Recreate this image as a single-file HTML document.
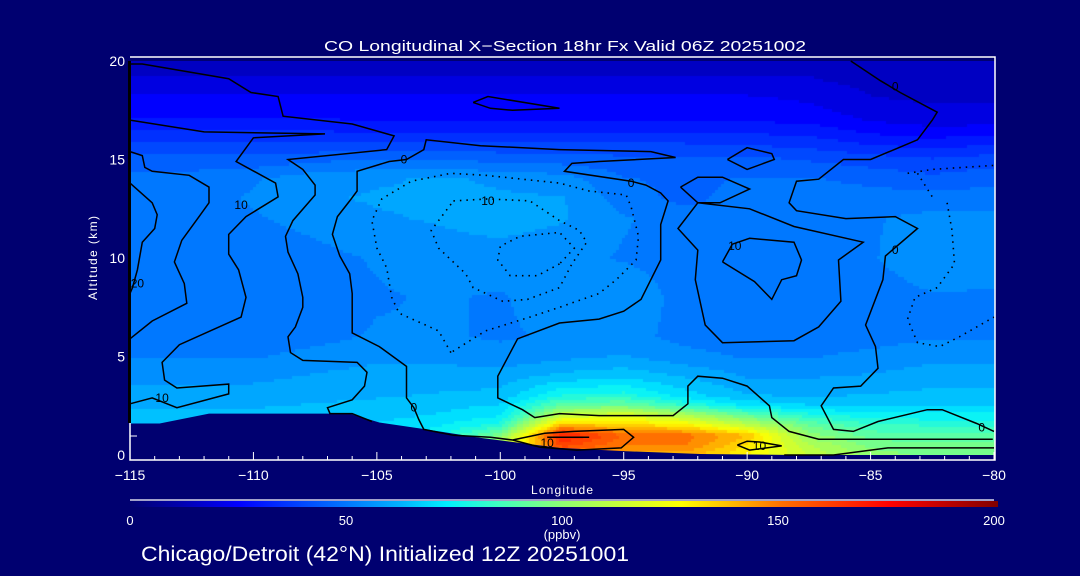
<!DOCTYPE html>
<html><head><meta charset="utf-8">
<style>
html,body{margin:0;padding:0;background:#000070;}
#wrap{position:relative;width:1080px;height:576px;overflow:hidden;background:#000070;}
#heat{position:absolute;left:130px;top:61px;}
svg{position:absolute;left:0;top:0;}
text{font-family:"Liberation Sans",sans-serif;}
</style></head>
<body>
<div id="wrap">
<canvas id="heat" width="865" height="394"></canvas>
<svg id="svg" width="1080" height="576"></svg>
</div>
<script>
// ---- data ----
const lons = [-115,-112.5,-110,-107.5,-105,-102.5,-100,-97.5,-95,-92.5,-90,-87.5,-85,-82.5,-80];
const alts = [0,0.5,1,1.5,2,2.5,3,4,5,6,8,10,12,13,14,15,16,17,18,19,20];
const coRows = [
 [70,70,70,70,72,84,115,150,140,140,128,112,100,96,96],
 [70,70,70,70,72,80,110,160,148,148,132,108,96,94,94],
 [68,68,68,68,70,76,96,170,152,150,138,100,90,88,88],
 [66,66,66,66,68,72,80,140,135,130,112,92,84,82,82],
 [64,64,64,64,66,68,72,112,120,108,92,80,75,74,74],
 [62,62,62,63,64,66,68,92,94,82,72,68,67,67,67],
 [60,60,60,61,62,63,64,78,80,70,63,62,63,64,64],
 [56,56,56,58,60,60,60,64,66,62,57,57,58,60,60],
 [52,52,52,54,56,56,54,56,58,54,52,52,54,56,56],
 [50,50,50,51,53,53,52,53,54,51,50,50,50,52,52],
 [50,50,50,50,52,53,52,55,57,50,50,50,50,52,52],
 [50,50,50,51,53,55,55,54,52,50,50,50,52,56,54],
 [50,51,52,54,57,58,60,58,53,50,50,50,52,54,54],
 [50,51,53,57,58,58,58,58,50,46,50,50,50,50,50],
 [49,50,52,56,57,58,57,55,48,46,48,48,46,44,46],
 [44,44,44,46,48,47,46,45,44,44,44,42,40,38,40],
 [37,37,37,36,36,36,36,36,36,36,35,34,30,28,30],
 [28,28,28,28,27,27,27,27,27,27,27,26,22,20,20],
 [24,24,24,24,24,24,24,24,24,24,24,22,18,17,17],
 [18,18,18,18,18,18,18,18,18,18,18,18,16,15,15],
 [16,16,16,16,16,16,16,16,16,16,16,16,16,16,16]
];
const terrainLon = [-115,-113.8,-111.8,-106.1,-104.9,-103,-100.8,-97.6,-95,-91.9,-88,-80];
const terrainAlt = [1.6,1.6,2.1,2.1,1.65,1.3,0.87,0.36,0.2,0.05,0,0];
const xTicks = [-115,-110,-105,-100,-95,-90,-85,-80];
const yTicks = [0,5,10,15,20];
const cbTicks = [0,50,100,150,200];
const solidContours = [
 [[-115,19.85],[-114.5,19.85],[-111,19.1],[-110.1,18.4],[-109,18.2],[-108.8,17.2],[-106,16.8],[-104.3,16.2],[-104.6,15.5],[-108.6,15],[-108,14.5],[-107.5,13.7],[-107.5,13.2],[-108.4,11.9],[-108.7,11.1],[-108.6,10.3],[-108.2,9.2],[-108,8],[-108,7.5],[-108.3,6.5],[-108.6,6],[-108.5,5.2],[-108,4.8],[-105.8,4.7],[-105.4,4.2],[-105.5,3.5],[-106,2.8],[-107,2.4],[-106.9,2.1],[-106,2.1],[-105.2,1.7]],
 [[-115,17],[-112,16.4],[-107.1,16.3],[-110,16.1],[-110.7,14.9],[-109.1,13.8],[-109,13.1],[-110.3,12.1],[-111,11.2],[-111,10.2],[-110.6,9.4],[-110.3,8],[-110.5,7],[-113,5.6],[-113.7,4.7],[-113.6,3.8],[-113.1,3.4],[-111,3.6],[-111,3.1],[-113.1,2.4],[-114.1,2.9],[-115,2.6]],
 [[-115,15.4],[-114.5,15.2],[-114.4,14.6],[-114.1,14.4],[-112.6,14.2],[-111.8,13.6],[-111.8,12.8],[-112.2,12.1],[-112.9,10.9],[-113.2,9.8],[-112.8,8.7],[-112.7,7.7],[-114.1,6.8],[-115,5.9]],
 [[-115,13.8],[-114.1,12.8],[-113.9,12.2],[-114,11.5],[-114.5,10.8],[-114.7,9.4],[-114.9,8.5],[-115,8.2]],
 [[-97.6,15.5],[-100.8,15.7],[-103,16],[-103.1,15.5],[-103.8,15],[-104.5,14.9],[-105.8,14.4],[-105.8,13.4],[-106.1,12.9],[-106.6,12.1],[-106.8,11.2],[-106.5,10.1],[-106.1,9.2],[-106,8.2],[-106,6.2],[-104.9,5.5],[-103.8,4.5],[-103.8,2.9],[-103.5,2.4],[-103.3,1.8],[-103.1,1.3],[-101.9,1],[-100.4,0.9],[-99.5,0.76]],
 [[-97.6,15.5],[-93.9,15.4],[-92.9,15.1],[-96,14.9],[-97.1,14.8],[-97.4,14.4],[-94.7,13.9],[-94.1,13.7],[-93.5,13.3],[-93.2,12.9],[-93.5,11.7],[-93.5,10.8],[-93.5,9.9],[-94.3,7.9],[-95,7.3],[-96,6.9],[-97.6,6.7],[-99.3,5.9],[-100.1,4],[-100.1,2.9],[-99.1,2.3],[-98.6,1.9],[-97.6,2.1],[-96,2],[-93,2],[-92.4,2.6],[-92.4,3.5],[-92,4],[-91,3.9],[-90,3.5],[-89.1,2.5],[-89,1.9],[-88.3,1.2],[-87.1,0.8],[-80.05,0.8]],
 [[-92,12.8],[-92.8,11.5],[-92,10.4],[-92.1,8.9],[-91.7,6.6],[-91,5.7],[-88.1,5.8],[-87.1,6.5],[-86.2,7.8],[-86.3,9.9],[-85.3,10.8],[-88.1,11.6],[-89.9,12.5],[-92,12.8]],
 [[-91,9.8],[-90.6,10.7],[-89.9,11],[-88.1,10.8],[-87.8,9.9],[-88,9.1],[-88.6,8.9],[-89,7.9],[-89.7,8.8],[-91,9.8]],
 [[-92.7,13.6],[-92,14.1],[-91,14.1],[-89.9,13.5],[-91.1,12.8],[-92,12.8],[-92.7,13.6]],
 [[-90.8,15],[-90,15.6],[-89,15.3],[-88.9,15],[-90,14.5],[-90.8,15]],
 [[-101.1,17.9],[-100.5,18.2],[-97.6,17.6],[-99.5,17.5],[-100.4,17.6],[-101.1,17.9]],
 [[-85.8,20],[-84.6,19],[-83.8,18.4],[-82.3,17.4],[-82.5,17],[-83.1,16],[-85,15],[-86.1,15],[-87.1,14],[-88,13.9],[-88.3,12.8],[-88,12.4],[-86,12],[-84,12.1],[-83.1,11.5],[-84.4,10.1],[-84.5,8.9],[-85.2,6.6],[-84.8,5.5],[-84.7,4.4],[-85.4,3.5],[-86.5,3.4],[-87,2.5],[-86.5,1.3],[-85.7,1.2],[-84.7,1.7],[-82.7,2.3],[-82.1,2.3],[-80.7,1.6],[-80,1.2]],
 [[-99.5,0.76],[-98.2,1.1],[-97,1.2],[-95,1.3],[-94.6,0.9],[-95.1,0.36],[-96.9,0.25],[-98.4,0.4],[-99.5,0.76]],
 [[-98.1,0.9],[-96.4,0.9]],
 [[-90.4,0.5],[-90,0.7],[-89.5,0.66],[-88.6,0.46],[-89.9,0.25],[-90.4,0.5]],
 [[-88.5,0],[-86.5,0],[-84.3,0.36],[-80,0.36]]
];
const dottedContours = [
 [[-102,5.2],[-102.5,6.3],[-104.1,7.2],[-104.4,8],[-104.6,9.5],[-105,10.5],[-105.2,11.9],[-104.8,13],[-103.6,13.9],[-102,14.3],[-100.6,14.2],[-97.6,13.8],[-96.4,13.4],[-94.9,13.2],[-94.7,12.6],[-94.4,11.1],[-94.5,9.9],[-95.3,8.9],[-96,8.2],[-97.6,7.5],[-98.8,7],[-100.6,6.3],[-102,5.2]],
 [[-101.9,12.9],[-100.5,13],[-98.8,12.9],[-97.6,11.9],[-96.8,11.4],[-96.5,10.8],[-97.1,9.7],[-97.6,8.5],[-98.9,7.9],[-99.9,7.8],[-101.1,8.5],[-101.4,9.2],[-102.5,10.5],[-102.8,11.4],[-101.9,12.9]],
 [[-97.6,9.7],[-98.5,9.1],[-99.6,9.1],[-100.1,9.9],[-100,10.6],[-99.2,11.1],[-97.6,11.3],[-97,10.5],[-97.6,9.7]],
 [[-83.5,14.3],[-82.5,14.5],[-80,14.7]],
 [[-83.1,14.3],[-82.5,13.1]],
 [[-81.9,12.8],[-81.7,11.4],[-81.6,9.7],[-82.3,8.5],[-83.2,8],[-83.5,6.9],[-83.1,5.7],[-82.2,5.5],[-81.4,6],[-80,7]]
];
const contourLabels = [["0",-103.9,15],["0",-94.7,13.8],["0",-84,18.7],["0",-84,10.4],["0",-80.5,1.4],["10",-110.5,12.7],["10",-100.5,12.9],["10",-90.5,10.6],["10",-113.7,2.9],["0",-103.5,2.4],["10",-89.5,0.45],["10",-98.1,0.6],["20",-114.7,8.7]];

// ---- scales ----
const X0=130,X1=994,Y0=455,Y1=61;
const xs = lon => X0 + (lon+115)/35*(X1-X0);
const ys = a => Y0 - a/20*(Y0-Y1);
const cmapV=[0,12,25,50,62,73,85,100,115,127,140,150,175,200];
const cmapC=[[0,0,112],[0,0,176],[0,0,255],[0,120,255],[0,176,255],[0,240,255],[64,255,192],[144,255,112],[208,255,48],[255,255,0],[255,176,0],[255,112,0],[255,0,0],[128,0,0]];
function cmap(v){
  v=Math.max(0,Math.min(200,v));
  for(let i=1;i<cmapV.length;i++){ if(v<=cmapV[i]){const t=(v-cmapV[i-1])/(cmapV[i]-cmapV[i-1]);const a=cmapC[i-1],b=cmapC[i];return 'rgb('+Math.round(a[0]+(b[0]-a[0])*t)+','+Math.round(a[1]+(b[1]-a[1])*t)+','+Math.round(a[2]+(b[2]-a[2])*t)+')';}}
  return 'rgb(128,0,0)';
}
function idx(arr,v){let i=0;while(i<arr.length-2&&v>arr[i+1])i++;return [i,Math.max(0,Math.min(1,(v-arr[i])/(arr[i+1]-arr[i])))];}
function field(lon,alt){
  const [i,tx]=idx(lons,lon),[j,ty]=idx(alts,alt);
  const a=coRows[j][i],b=coRows[j][i+1],c=coRows[j+1][i],d=coRows[j+1][i+1];
  return (a*(1-tx)+b*tx)*(1-ty)+(c*(1-tx)+d*tx)*ty;
}
// ---- heatmap (discrete fill levels, 5 ppbv) ----
const cv=document.getElementById('heat'),ctx=cv.getContext('2d');
const step=3;
for(let py=0;py<394;py+=step){
  for(let px=0;px<865;px+=step){
    const lon=-115+(px+step/2)/(X1-X0)*35, alt=(Y0-(61+py+step/2))/(Y0-Y1)*20;
    const v=Math.round(field(lon,alt)/5)*5;
    ctx.fillStyle=cmap(v);
    ctx.fillRect(px,py,step,step);
  }
}
// ---- svg ----
const NS='http://www.w3.org/2000/svg',svg=document.getElementById('svg');
function mk(tag,attrs,parent){const e=document.createElementNS(NS,tag);for(const k in attrs)e.setAttribute(k,attrs[k]);(parent||svg).appendChild(e);return e;}
let tp='M'+xs(-115)+','+(Y0+2);
terrainLon.forEach((l,i)=>{tp+=' L'+xs(l).toFixed(1)+','+ys(terrainAlt[i]).toFixed(1);});
tp+=' L'+xs(-80)+','+(Y0+2)+' Z';
const terr=mk('path',{d:tp,fill:'#000070'});


const cg=mk('g',{fill:'none',stroke:'#000'});


solidContours.forEach(c=>{
  const p=mk('polyline',{points:c.map(q=>xs(q[0]).toFixed(1)+','+ys(q[1]).toFixed(1)).join(' '),'stroke-width':1.5},cg);
  
  
});
dottedContours.forEach(c=>{
  const p=mk('polyline',{points:c.map(q=>xs(q[0]).toFixed(1)+','+ys(q[1]).toFixed(1)).join(' '),'stroke-width':1.6,'stroke-dasharray':'1.5 5'},cg);
  
  
});
contourLabels.forEach(l=>{
  const t=mk('text',{x:xs(l[1]),y:ys(l[2])+4,'font-size':12,'text-anchor':'middle',fill:'#000'});
  t.textContent=l[0];
  
  
});
const W='#fff';
const lb=mk('line',{x1:129.5,y1:61,x2:129.5,y2:423,stroke:'#000','stroke-width':3});


const frame=mk('path',{d:'M130,57 L995,57 L995,460 L130,460 L130,423',fill:'none',stroke:W,'stroke-width':1.5});


mk('line',{x1:130,y1:436,x2:137,y2:436,stroke:W,'stroke-width':1});
for(let l=-115;l<=-80;l++){
  const major=(l%5===0);
  const tk=mk('line',{x1:xs(l),y1:460,x2:xs(l),y2:major?452:456,stroke:W,'stroke-width':1});
  
  
}
xTicks.forEach(v=>{
  const t=mk('text',{x:xs(v),y:480,'font-size':14,'text-anchor':'middle',fill:W});
  t.textContent=(v<0?'\u2212'+(-v):v);
  
  
});
yTicks.forEach(v=>{
  const t=mk('text',{x:125,y:ys(v)+5,'font-size':14,'text-anchor':'end',fill:W});
  t.textContent=v;
  
  
});
const xt=mk('text',{x:562,y:494,'font-size':12,'text-anchor':'middle',fill:W,textLength:62});
xt.textContent='Longitude';


const yt=mk('text',{x:0,y:0,'font-size':12,'text-anchor':'middle',fill:W,transform:'translate(97,258) rotate(-90)',textLength:84});
yt.textContent='Altitude (km)';


const tt=mk('text',{x:565,y:51,'font-size':15,'text-anchor':'middle',fill:W,textLength:482,lengthAdjust:'spacingAndGlyphs'});
tt.textContent='CO Longitudinal X\u2212Section 18hr  Fx Valid 06Z 20251002';


const defs=mk('defs',{});
const grad=mk('linearGradient',{id:'cbg',x1:0,y1:0,x2:1,y2:0},defs);
cmapV.forEach((v,i)=>{mk('stop',{offset:v/200,'stop-color':cmap(v)},grad);});
const cbl=mk('line',{x1:130,y1:500,x2:994,y2:500,stroke:W,'stroke-width':1.2});


const cb=mk('rect',{x:130,y:501,width:868,height:6,fill:'url(#cbg)'});


cbTicks.forEach(v=>{
  const t=mk('text',{x:130+v/200*864,y:525,'font-size':13,'text-anchor':'middle',fill:W});
  t.textContent=v;
  
  
});
const un=mk('text',{x:562,y:539,'font-size':13,'text-anchor':'middle',fill:W});
un.textContent='(ppbv)';


const bt=mk('text',{x:141,y:561,'font-size':21,fill:W,textLength:488,lengthAdjust:'spacingAndGlyphs'});
bt.textContent='Chicago/Detroit (42\u00B0N) Initialized 12Z 20251001';


</script>
</body></html>
